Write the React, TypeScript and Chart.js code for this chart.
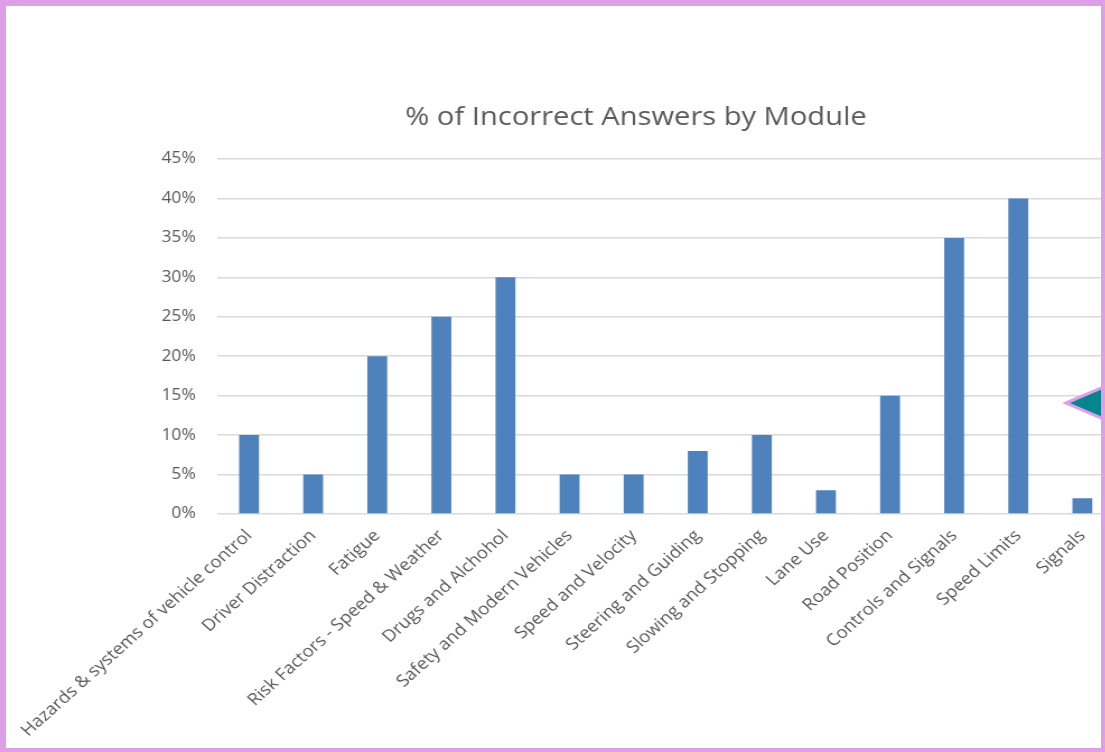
import React, { useEffect, useRef } from "react";
import { Chart, registerables } from "chart.js";

Chart.register(...registerables);

const categories = [
  "Hazards & systems of vehicle control",
  "Driver Distraction",
  "Fatigue",
  "Risk Factors - Speed & Weather",
  "Drugs and Alchohol",
  "Safety and Modern Vehicles",
  "Speed and Velocity",
  "Steering and Guiding",
  "Slowing and Stopping",
  "Lane Use",
  "Road Position",
  "Controls and Signals",
  "Speed Limits",
  "Signals",
];
const incorrectShare = [0.1, 0.05, 0.2, 0.25, 0.3, 0.05, 0.05, 0.08, 0.1, 0.03, 0.15, 0.35, 0.4, 0.02];
const yTicks = [0, 0.05, 0.1, 0.15, 0.2, 0.25, 0.3, 0.35, 0.4, 0.45];
const chartTitle = "% of Incorrect Answers by Module";

const FONT = "'Open Sans', 'DejaVu Sans', sans-serif";
const TEXT = "#595959";
const PINK = "#DE9EE8";
const STRETCH = 1.12; // the reference picture is stretched horizontally
const CANVAS_W = 1150;

export default function App() {
  const canvasRef = useRef<HTMLCanvasElement | null>(null);

  useEffect(() => {
    const canvas = canvasRef.current;
    if (!canvas) return;
    const areaLeft = 217 / STRETCH;
    const areaRight = 1114.4 / STRETCH;
    const titleCenter = 636 / STRETCH;
    const padRight = CANVAS_W - areaRight;
    const padLeft = 2 * titleCenter - areaRight;
    const chart = new Chart(canvas, {
      type: "bar",
      data: {
        labels: categories,
        datasets: [
          {
            data: incorrectShare,
            backgroundColor: "#4F81BD",
            borderWidth: 0,
            barPercentage: 0.31,
            categoryPercentage: 1,
          },
        ],
      },
      options: {
        animation: false,
        responsive: false,
        devicePixelRatio: 1,
        layout: { padding: { left: padLeft, right: padRight, top: 0, bottom: 0 } },
        plugins: {
          legend: { display: false },
          tooltip: { enabled: false },
          title: {
            display: true,
            text: chartTitle,
            color: TEXT,
            font: { family: FONT, size: 26, weight: "normal" },
            padding: { top: 102, bottom: 25.8 },
          },
        },
        scales: {
          x: {
            grid: { display: false },
            border: { display: false },
            ticks: {
              autoSkip: false,
              minRotation: 45,
              maxRotation: 45,
              color: TEXT,
              font: { family: FONT, size: 16.6 },
              padding: 4,
            },
            afterFit: (scale: any) => {
              scale.height = 752 - 514;
            },
          },
          y: {
            min: 0,
            max: 0.45,
            afterBuildTicks: (scale: any) => {
              scale.ticks = yTicks.map((v) => ({ value: v }));
            },
            grid: { color: "#D9D9D9", lineWidth: 1.5, drawTicks: false },
            border: { display: false },
            ticks: {
              color: TEXT,
              font: { family: FONT, size: 15.5 },
              padding: 19,
              callback: (v: any) => `${Math.round(Number(v) * 100)}%`,
            },
            afterFit: (scale: any) => {
              scale.width = areaLeft - padLeft;
            },
          },
        },
      },
    });
    return () => chart.destroy();
  }, []);

  return (
    <div
      style={{
        position: "fixed",
        left: 0,
        top: 0,
        width: 1105,
        height: 752,
        overflow: "hidden",
        background: "#ffffff",
      }}
    >
      <canvas
        ref={canvasRef}
        width={CANVAS_W}
        height={752}
        style={{
          position: "absolute",
          left: 0,
          top: 0,
          width: CANVAS_W,
          height: 752,
          transform: `scaleX(${STRETCH})`,
          transformOrigin: "0 0",
        }}
      />
      <svg
        width={1105}
        height={752}
        style={{ position: "absolute", left: 0, top: 0, pointerEvents: "none" }}
      >
        <polygon
          points="1066,403 1108,385 1108,421"
          fill="#05868C"
          stroke={PINK}
          strokeWidth={3}
          strokeLinejoin="miter"
        />
        <rect x={0} y={0} width={1105} height={6} fill={PINK} />
        <rect x={0} y={0} width={6} height={752} fill={PINK} />
        <rect x={0} y={748} width={1105} height={4} fill={PINK} />
        <rect x={1101} y={0} width={4} height={752} fill={PINK} />
      </svg>
    </div>
  );
}
